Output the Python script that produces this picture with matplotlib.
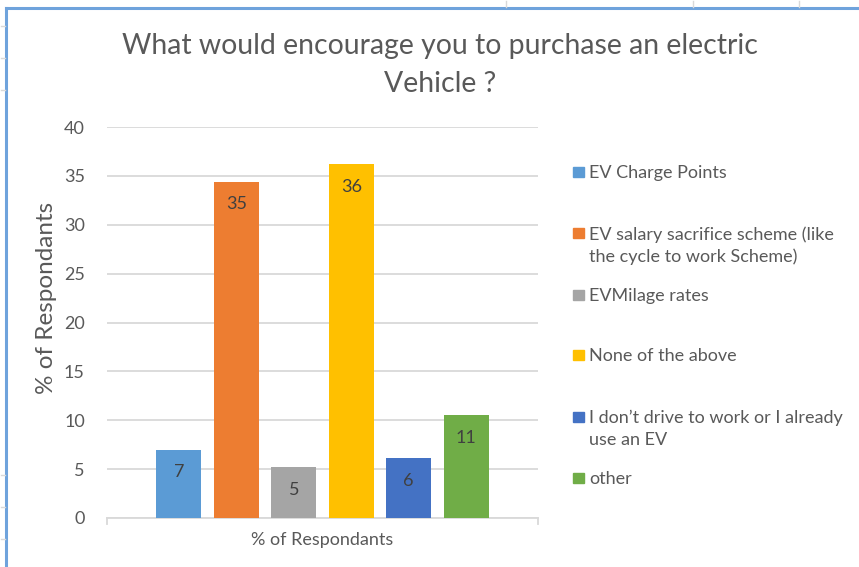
import matplotlib.pyplot as plt
from matplotlib.patches import Rectangle
from matplotlib.lines import Line2D

plt.rcParams['font.family'] = ['Lato', 'DejaVu Sans']

# datos
categories = ['EV Charge Points',
              'EV salary sacrifice scheme (like\nthe cycle to work Scheme)',
              'EVMilage rates',
              'None of the above',
              'I don\u2019t drive to work or I already\nuse an EV',
              'other']
values = [7.0, 34.4, 5.2, 36.2, 6.1, 10.5]
labels = ['7', '35', '5', '36', '6', '11']
colors = ['#5b9bd5', '#ed7d31', '#a5a5a5', '#ffc000', '#4472c4', '#70ad47']
yticks = [0, 5, 10, 15, 20, 25, 30, 35, 40]

W, H = 859, 567
fig = plt.figure(figsize=(W / 100, H / 100), dpi=100)
ax = fig.add_axes([107 / W, 1 - 518 / H, 431 / W, 391 / H])

# barras
x = list(range(len(values)))
ax.bar(x, values, width=0.78, color=colors, zorder=3)
for xi, v, lab in zip(x, values, labels):
    ax.text(xi, v - 2.3, lab, ha='center', va='center', fontsize=13, color='#404040', zorder=4)

ax.set_xlim(-1.25, 6.25)
ax.set_ylim(0, 40)
ax.set_yticks(yticks)
ax.tick_params(axis='y', length=0, labelsize=13, labelcolor='#595959', pad=16)
ax.set_xticks([])
ax.grid(axis='y', color='#d9d9d9', linewidth=1.3, zorder=0)
for s in ['top', 'right', 'left']:
    ax.spines[s].set_visible(False)
ax.spines['bottom'].set_color('#d9d9d9')
ax.spines['bottom'].set_linewidth(1.3)
# marcas pequeñas en los extremos del eje x
for xe in [-1.25, 6.25]:
    ax.plot([xe, xe], [0, -0.6], color='#d9d9d9', lw=1.3, clip_on=False)

ax.set_xlabel('% of Respondants', fontsize=13, color='#595959', labelpad=10)
ax.set_ylabel('% of Respondants', fontsize=17.5, color='#595959')
ax.yaxis.set_label_coords(-50 / 431, 0.563)

# titulo
fig.text(440 / W, 1 - 46 / H, 'What would encourage you to purchase an electric',
         ha='center', va='center', fontsize=20.4, color='#595959')
fig.text(440 / W, 1 - 84 / H, 'Vehicle ?',
         ha='center', va='center', fontsize=20.4, color='#595959')

# leyenda manual
leg_y = [172, 233, 295, 355, 417, 478]
for cat, col, yy in zip(categories, colors, leg_y):
    fig.patches.append(Rectangle((573 / W, 1 - (yy + 5) / H), 11 / W, 10 / H,
                                 transform=fig.transFigure, color=col))
    fig.text(589 / W, 1 - (yy - 7) / H, cat, ha='left', va='top', fontsize=13,
             color='#595959', linespacing=1.45)

# marco del grafico y celdas de la hoja
fig.add_artist(Line2D([6 / W, 6 / W], [0, 1 - 8 / H], color='#6fa3dc', lw=2.2,
                      transform=fig.transFigure))
fig.add_artist(Line2D([6 / W, 1], [1 - 8 / H, 1 - 8 / H], color='#6fa3dc', lw=2.2,
                      transform=fig.transFigure))
for yy in [26, 58, 90, 475, 507, 539]:
    fig.add_artist(Line2D([1 / W, 5 / W], [1 - yy / H, 1 - yy / H], color='#d9d9d9', lw=1,
                          transform=fig.transFigure))
for xx in [506, 693, 799]:
    fig.add_artist(Line2D([xx / W, xx / W], [1 - 1 / H, 1 - 7 / H], color='#d9d9d9', lw=1,
                          transform=fig.transFigure))

fig.savefig('out.png', dpi=100)
